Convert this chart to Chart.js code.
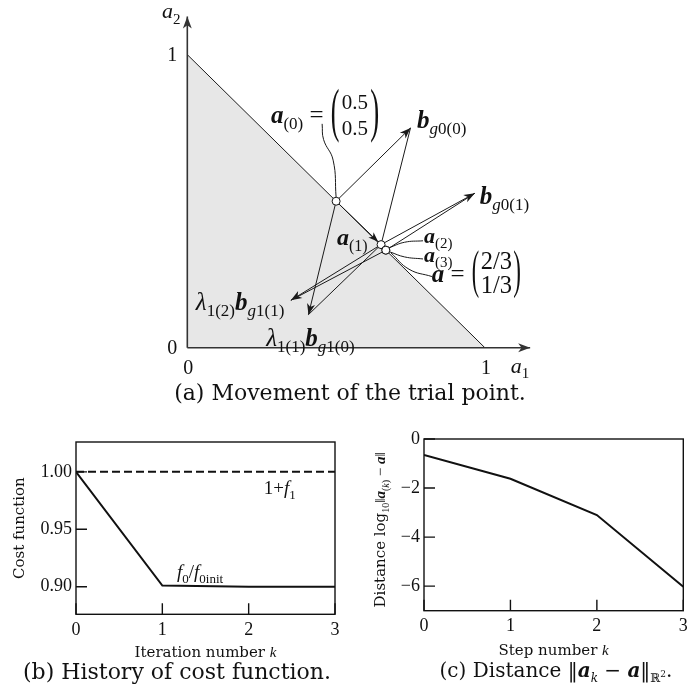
<!DOCTYPE html>
<html>
<head>
<meta charset="utf-8">
<script src="https://cdn.jsdelivr.net/npm/chart.js@4.4.0/dist/chart.umd.min.js"></script>
<style>
    body { margin: 0; background: #fff; width: 688px; height: 696px; position: relative; overflow: hidden; }
    .box { position: absolute; }
    .cap { position: absolute; font-family: "DejaVu Serif", serif; font-size: 22px; line-height: 24px;
           color: #111; white-space: nowrap; transform: translateX(-50%); }
</style>
</head>
<body>
<div class="box" style="left:0;top:0;width:688px;height:382px"><canvas id="moveChart"></canvas></div>
<div class="cap" style="left:350px;top:381px">(a) Movement of the trial point.</div>
<div class="box" style="left:0;top:430px;width:345px;height:240px"><canvas id="costChart"></canvas></div>
<div class="box" style="left:345px;top:430px;width:343px;height:240px"><canvas id="distChart"></canvas></div>
<div class="cap" style="left:177px;top:660px">(b) History of cost function.</div>
<div class="cap" style="left:556px;top:658px;font-size:20px">(c) Distance ‖<b><i>a</i></b><sub style="font-size:12px"><i>k</i></sub> − <b><i>a</i></b>‖<sub style="font-size:12px">ℝ<sup style="font-size:9px">2</sup></sub>.</div>

<script>
// (a) trial point a(k) and the vectors drawn from it
const trialA1 = [0.5, 0.651, 0.667, 0.667];   // a(0), a(1), a(2), a(3)
const trialA2 = [0.5, 0.352, 0.333, 0.333];
const gradF0A1 = [0.75, 0.966];                // tips of b_g0(0), b_g0(1)
const gradF0A2 = [0.75, 0.527];
const gradF1A1 = [0.407, 0.348];               // tips of λ1(1) b_g1(0), λ1(2) b_g1(1)
const gradF1A2 = [0.113, 0.162];
const boundA1 = [0, 1];                        // a1 + a2 = 1
const boundA2 = [1, 0];
const axisTicks = [0, 1];

// (b) cost function history
const iterations = [0, 1, 2, 3];
const costF0 = [1.0, 0.901, 0.900, 0.900];
const costF1 = [1.0, 1.0, 1.0, 1.0];
const costTicks = [0.90, 0.95, 1.00];

// (c) distance to the solution
const steps = [0, 1, 2, 3];
const distLog = [-0.65, -1.62, -3.10, -6.02];
const distTicks = [-6, -4, -2, 0];

const FONT_NUM = '"Liberation Serif", serif';
const FONT_TXT = '"DejaVu Serif", serif';
const INK = "#111";
Chart.defaults.color = INK;

const P = (x, y) => ({ x: x, y: y });
const T = (t, st, lv, fam) => ({ t: t, st: st || "r", lv: lv || 0, fam: fam });

function segFont(s, size) {
    const st = s.st;
    return (st.includes("i") ? "italic " : "") + (st.includes("b") ? "bold " : "") + size + "px " + (s.fam || FONT_NUM);
}

function matWidth(ctx, s, size) {
    ctx.font = (size * s.rs) + "px " + FONT_NUM;
    const cw = Math.max(...s.mat.map(r => ctx.measureText(r).width));
    return cw + 2 * (s.pw + s.pad) + 2;
}

function drawParen(ctx, ch, x, top, bottom, w) {
    ctx.save();
    ctx.font = "100px " + FONT_NUM;
    const m = ctx.measureText(ch);
    const sx = w / (m.actualBoundingBoxLeft + m.actualBoundingBoxRight);
    const sy = (bottom - top) / (m.actualBoundingBoxAscent + m.actualBoundingBoxDescent);
    ctx.translate(x + m.actualBoundingBoxLeft * sx, top + m.actualBoundingBoxAscent * sy);
    ctx.scale(sx, sy);
    ctx.fillText(ch, 0, 0);
    ctx.restore();
}

function drawMat(ctx, s, x, size) {
    const rs = size * s.rs;
    const mid = -size * 0.27;
    ctx.font = rs + "px " + FONT_NUM;
    const cw = Math.max(...s.mat.map(r => ctx.measureText(r).width));
    const x0 = x + 2;
    drawParen(ctx, "(", x0, mid - s.ph / 2, mid + s.ph / 2, s.pw);
    drawParen(ctx, ")", x0 + s.pw + 2 * s.pad + cw, mid - s.ph / 2, mid + s.ph / 2, s.pw);
    ctx.font = rs + "px " + FONT_NUM;
    ctx.textAlign = "center";
    ctx.textBaseline = "middle";
    s.mat.forEach((r, i) => {
        ctx.fillText(r, x0 + s.pw + s.pad + cw / 2, mid + (i - (s.mat.length - 1) / 2) * s.gap);
    });
    ctx.textAlign = "left";
    ctx.textBaseline = "alphabetic";
}

function drawRich(ctx, segs, x, y, size, align, rot) {
    ctx.save();
    ctx.translate(x, y);
    if (rot) ctx.rotate(rot);
    let w = 0;
    const items = segs.map(s => {
        if (s.mat) {
            const it = { s: s, x: w };
            w += matWidth(ctx, s, size);
            return it;
        }
        const sz = s.lv ? Math.round(size * 0.66) : size;
        ctx.font = segFont(s, sz);
        const it = { s: s, x: w, sz: sz };
        w += ctx.measureText(s.t).width;
        return it;
    });
    const x0 = align === "center" ? -w / 2 : align === "right" ? -w : 0;
    ctx.fillStyle = INK;
    ctx.textAlign = "left";
    ctx.textBaseline = "alphabetic";
    items.forEach(it => {
        if (it.s.mat) { drawMat(ctx, it.s, x0 + it.x, size); return; }
        ctx.font = segFont(it.s, it.sz);
        const dy = it.s.lv === 1 ? size * 0.24 : it.s.lv === -1 ? -size * 0.4 : 0;
        ctx.fillText(it.s.t, x0 + it.x, dy);
    });
    ctx.restore();
}

function arrowHead(ctx, x1, y1, x2, y2, len, gap) {
    const ang = Math.atan2(y2 - y1, x2 - x1);
    ctx.save();
    ctx.translate(x2 - gap * Math.cos(ang), y2 - gap * Math.sin(ang));
    ctx.rotate(ang);
    ctx.beginPath();
    ctx.moveTo(0, 0);
    ctx.lineTo(-len, -len * 0.37);
    ctx.lineTo(-len * 0.72, 0);
    ctx.lineTo(-len, len * 0.37);
    ctx.closePath();
    ctx.fill();
    ctx.restore();
}

// ---------- (a) ----------
const A = i => P(trialA1[i], trialA2[i]);
const G0 = i => P(gradF0A1[i], gradF0A2[i]);
const G1 = i => P(gradF1A1[i], gradF1A2[i]);

function seg(p, q, extra) {
    return Object.assign({
        data: [p, q], showLine: true, borderColor: "#1a1a1a", borderWidth: 1,
        pointRadius: 0, fill: false, tension: 0, order: 5
    }, extra || {});
}

// leader curves from the labels to the points
const leaders = [
    [[0.5, 0.513], [0.49, 0.64], [0.458, 0.71], [0.453, 0.764]],
    [[0.792, 0.365], [0.73, 0.36], [0.678, 0.341]],
    [[0.792, 0.303], [0.73, 0.31], [0.681, 0.327]],
    [[0.822, 0.243], [0.745, 0.268], [0.684, 0.324]]
];

const moveData = [
    { data: boundA1.map((v, i) => P(v, boundA2[i])), showLine: true, fill: "origin",
      backgroundColor: "#e7e7e7", borderColor: "#1a1a1a", borderWidth: 1, pointRadius: 0, order: 10 },
    seg(P(0, 0), P(1.152, 0), { arrow: 12, borderColor: "#333", borderWidth: 1.6, order: 8 }),
    seg(P(0, 0), P(0, 1.13), { arrow: 12, borderColor: "#333", borderWidth: 1.6, order: 8 }),
    seg(A(0), G0(0), { arrow: 11 }),
    seg(A(0), G1(0), { arrow: 11 }),
    seg(G0(0), A(1)),
    seg(G1(0), A(1)),
    seg(A(0), A(1), { arrow: 10, gap: 4 }),
    seg(A(1), G0(1), { arrow: 11 }),
    seg(A(2), G0(1)),
    seg(A(1), G1(1), { arrow: 11 }),
    seg(A(2), G1(1))
];
leaders.forEach(l => moveData.push({
    data: l.map(p => P(p[0], p[1])), showLine: true, borderColor: "#1a1a1a", borderWidth: 1,
    pointRadius: 0, fill: false, tension: 0.45, order: 6
}));
moveData.push({
    data: trialA1.map((v, i) => P(v, trialA2[i])), showLine: false, pointRadius: 4,
    pointBackgroundColor: "#fff", pointBorderColor: INK, pointBorderWidth: 1, order: 0
});

const moveLabels = [
    { at: [0.281, 0.767], size: 25, segs: [T("a", "bi"), T("(0)", "r", 1), T(" = "),
        { mat: ["0.5", "0.5"], rs: 0.84, pw: 7, pad: 3, ph: 54, gap: 26 }] },
    { at: [0.772, 0.749], size: 25, segs: [T("b", "bi"), T("g", "i", 1), T("0(0)", "r", 1)] },
    { at: [0.983, 0.492], size: 25, segs: [T("b", "bi"), T("g", "i", 1), T("0(1)", "r", 1)] },
    { at: [0.503, 0.35], size: 24, segs: [T("a", "bi"), T("(1)", "r", 1)] },
    { at: [0.795, 0.357], size: 22, segs: [T("a", "bi"), T("(2)", "r", 1)] },
    { at: [0.795, 0.292], size: 22, segs: [T("a", "bi"), T("(3)", "r", 1)] },
    { at: [0.821, 0.226], size: 25, segs: [T("a", "bi"), T(" = "),
        { mat: ["2/3", "1/3"], rs: 0.98, pw: 6, pad: 2, ph: 48, gap: 24 }] },
    { at: [0.326, 0.128], size: 25, align: "right",
      segs: [T("λ", "i"), T("1(2)", "r", 1), T("b", "bi"), T("g", "i", 1), T("1(1)", "r", 1)] },
    { at: [0.265, 0.005], size: 25,
      segs: [T("λ", "i"), T("1(1)", "r", 1), T("b", "bi"), T("g", "i", 1), T("1(0)", "r", 1)] }
];

const moveDecor = {
    id: "moveDecor",
    afterDatasetsDraw(chart) {
        const { ctx, scales: { x, y } } = chart;
        ctx.save();
        chart.data.datasets.forEach((ds, i) => {
            if (!ds.arrow) return;
            const pts = chart.getDatasetMeta(i).data;
            const p = pts[pts.length - 2], q = pts[pts.length - 1];
            ctx.fillStyle = ds.borderColor;
            arrowHead(ctx, p.x, p.y, q.x, q.y, ds.arrow, ds.gap || 0);
        });
        ctx.fillStyle = INK;
        ctx.font = "20px " + FONT_NUM;
        ctx.textBaseline = "middle";
        axisTicks.forEach(v => {
            ctx.textAlign = "center";
            ctx.fillText(String(v), x.getPixelForValue(v) + 1, y.getPixelForValue(0) + 21);
            ctx.textAlign = "right";
            ctx.fillText(String(v), x.getPixelForValue(0) - 10, y.getPixelForValue(v) + 1);
        });
        drawRich(ctx, [T("a", "i"), T("2", "r", 1)], x.getPixelForValue(-0.085), y.getPixelForValue(1.124), 22, "left");
        drawRich(ctx, [T("a", "i"), T("1", "r", 1)], x.getPixelForValue(1.087), y.getPixelForValue(-0.085), 22, "left");
        moveLabels.forEach(l => {
            drawRich(ctx, l.segs, x.getPixelForValue(l.at[0]), y.getPixelForValue(l.at[1]), l.size, l.align || "left");
        });
        ctx.restore();
    }
};

new Chart(document.getElementById("moveChart"), {
    type: "scatter",
    data: { datasets: moveData },
    options: {
        responsive: true,
        maintainAspectRatio: false,
        animation: false,
        events: [],
        layout: { padding: 0 },
        plugins: { legend: { display: false }, tooltip: { enabled: false } },
        scales: {
            x: { type: "linear", display: false, min: -0.6126, max: 1.6656 },
            y: { type: "linear", display: false, min: -0.0997, max: 1.1694 }
        }
    },
    plugins: [moveDecor]
});

// ---------- (b) and (c) ----------
const frame = {
    id: "frame",
    afterDatasetsDraw(chart, args, o) {
        const { ctx, chartArea: a, scales: { x, y } } = chart;
        ctx.save();
        ctx.strokeStyle = INK;
        ctx.lineWidth = 1.4;
        ctx.strokeRect(a.left, a.top, a.right - a.left, a.bottom - a.top);
        ctx.beginPath();
        x.ticks.forEach(t => {
            const px = x.getPixelForValue(t.value);
            ctx.moveTo(px, a.bottom);
            ctx.lineTo(px, a.bottom - o.len);
        });
        y.ticks.forEach(t => {
            const py = y.getPixelForValue(t.value);
            ctx.moveTo(a.left, py);
            ctx.lineTo(a.left + o.len, py);
        });
        ctx.stroke();
        (o.notes || []).forEach(n => {
            drawRich(ctx, n.segs, x.getPixelForValue(n.at[0]), y.getPixelForValue(n.at[1]), n.size, n.align);
        });
        if (o.xTitle) {
            drawRich(ctx, o.xTitle, (a.left + a.right) / 2, a.bottom + o.xTitleGap, 15, "center");
        }
        if (o.yTitle) {
            drawRich(ctx, o.yTitle, a.left - o.yTitleGap, (a.top + a.bottom) / 2 + 5, 15, "center", -Math.PI / 2);
        }
        ctx.restore();
    }
};

const tickFont = { family: FONT_NUM, size: 18 };

new Chart(document.getElementById("costChart"), {
    type: "line",
    data: {
        datasets: [
            { label: "f0/f0init", data: iterations.map((k, i) => P(k, costF0[i])),
              borderColor: INK, borderWidth: 2, pointRadius: 0, tension: 0, fill: false },
            { label: "1+f1", data: iterations.map((k, i) => P(k, costF1[i])),
              borderColor: INK, borderWidth: 2, borderDash: [8, 4], pointRadius: 0, tension: 0, fill: false }
        ]
    },
    options: {
        responsive: true,
        maintainAspectRatio: false,
        animation: false,
        events: [],
        layout: { padding: { top: 12, right: 10, left: 0, bottom: 0 } },
        plugins: {
            legend: { display: false },
            tooltip: { enabled: false },
            frame: {
                len: 11,
                notes: [
                    { at: [2.36, 0.9806], size: 19, align: "center",
                      segs: [T("1"), T("+"), T("f", "i"), T("1", "r", 1)] },
                    { at: [1.17, 0.9076], size: 19, align: "left",
                      segs: [T("f", "i"), T("0", "r", 1), T("/"), T("f", "i"), T("0init", "r", 1)] }
                ],
                xTitle: [T("Iteration number ", "r", 0, FONT_TXT), T("k", "i")],
                xTitleGap: 43
            }
        },
        scales: {
            x: {
                type: "linear", min: 0, max: 3,
                grid: { display: false, drawTicks: false }, border: { display: false },
                ticks: { stepSize: 1, font: tickFont, padding: 5, maxRotation: 0 },
                afterFit(s) { s.height = 55.7; s.paddingLeft = 0; s.paddingRight = 0; }
            },
            y: {
                type: "linear", min: 0.876, max: 1.026,
                grid: { display: false, drawTicks: false }, border: { display: false },
                afterBuildTicks(s) { s.ticks = costTicks.map(v => ({ value: v })); },
                ticks: { font: tickFont, padding: 4, callback: v => v.toFixed(2) },
                title: { display: true, text: "Cost function", font: { family: FONT_TXT, size: 15 },
                         padding: { top: 11, bottom: 0 } },
                afterFit(s) { s.width = 76; s.paddingTop = 0; s.paddingBottom = 0; }
            }
        }
    },
    plugins: [frame]
});

new Chart(document.getElementById("distChart"), {
    type: "line",
    data: {
        datasets: [
            { label: "distance", data: steps.map((k, i) => P(k, distLog[i])),
              borderColor: INK, borderWidth: 2, pointRadius: 0, tension: 0, fill: false }
        ]
    },
    options: {
        responsive: true,
        maintainAspectRatio: false,
        animation: false,
        events: [],
        layout: { padding: { top: 9, right: 4.7, left: 0, bottom: 0 } },
        plugins: {
            legend: { display: false },
            tooltip: { enabled: false },
            frame: {
                len: 11,
                xTitle: [T("Step number ", "r", 0, FONT_TXT), T("k", "i")],
                xTitleGap: 44,
                yTitle: [T("Distance log", "r", 0, FONT_TXT), T("10", "r", 1), T("‖"), T("a", "bi"),
                         T("(", "r", 1), T("k", "i", 1), T(")", "r", 1), T(" − "), T("a", "bi"), T("‖")],
                yTitleGap: 39
            }
        },
        scales: {
            x: {
                type: "linear", min: 0, max: 3,
                grid: { display: false, drawTicks: false }, border: { display: false },
                ticks: { stepSize: 1, font: tickFont, padding: 5, maxRotation: 0 },
                afterFit(s) { s.height = 59.3; s.paddingLeft = 0; s.paddingRight = 0; }
            },
            y: {
                type: "linear", min: -7, max: 0,
                grid: { display: false, drawTicks: false }, border: { display: false },
                afterBuildTicks(s) { s.ticks = distTicks.map(v => ({ value: v })); },
                ticks: { font: tickFont, padding: 4, callback: v => (v < 0 ? "−" + Math.abs(v) : String(v)) },
                afterFit(s) { s.width = 79; s.paddingTop = 0; s.paddingBottom = 0; }
            }
        }
    },
    plugins: [frame]
});
</script>
</body>
</html>
